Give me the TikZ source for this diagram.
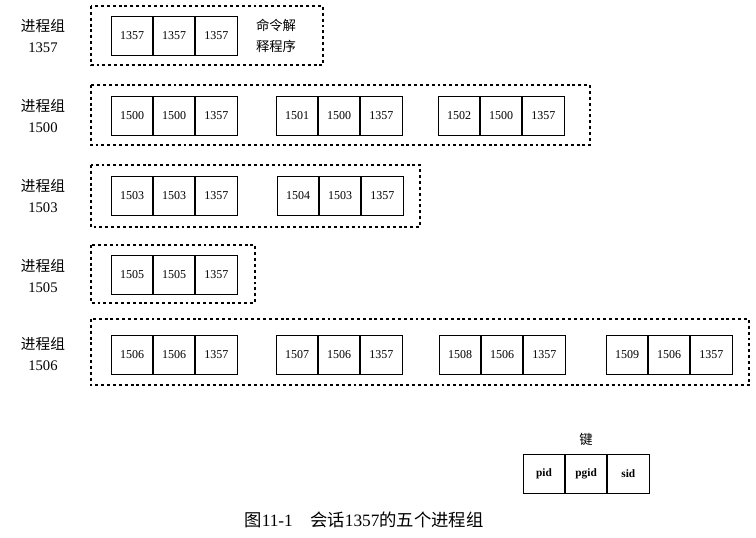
\documentclass[tikz,border=0pt]{standalone}
\usepackage{fontspec}
\setmainfont{Liberation Serif}
\newfontfamily\cjk{Noto Sans CJK SC}
\usetikzlibrary{positioning}

\tikzset{
  cell/.style={draw, line width=0.6pt, minimum width=31pt, minimum height=29.5pt,
    inner sep=0pt, font=\fontsize{9}{10}\selectfont},
  keycell/.style={cell, font=\fontsize{8.5}{10}\selectfont\bfseries},
  group/.style={draw, line width=0.8pt, dash pattern=on 2.2pt off 2.2pt},
  grouplabel/.style={align=center, font=\fontsize{11}{16}\selectfont}
}

\begin{document}
\begin{tikzpicture}[x=0.75pt,y=-0.75pt]
  \useasboundingbox (0,0) rectangle (756,537);

  % process groups
  \draw[group] (91,6) rectangle (323,65);
  \draw[group] (91,85) rectangle (590,145);
  \draw[group] (91,165) rectangle (420,227);
  \draw[group] (91,245) rectangle (255,303);
  \draw[group] (91,319) rectangle (749,385);

  \node[grouplabel] (g1357) at (43,36) {{\cjk 进程组}\\1357};
  \node[grouplabel] (g1500) at (43,116) {{\cjk 进程组}\\1500};
  \node[grouplabel] (g1503) at (43,196) {{\cjk 进程组}\\1503};
  \node[grouplabel] (g1505) at (43,276) {{\cjk 进程组}\\1505};
  \node[grouplabel] (g1506) at (43,354) {{\cjk 进程组}\\1506};

  % processes: pid, pgid, sid
  \foreach \n/\x/\y/\a/\b/\c in {
      p1357/132/36/1357/1357/1357,
      p1500/132/116/1500/1500/1357,
      p1501/297/116/1501/1500/1357,
      p1502/459/116/1502/1500/1357,
      p1503/132/196/1503/1503/1357,
      p1504/298/196/1504/1503/1357,
      p1505/132/275/1505/1505/1357,
      p1506/132/355/1506/1506/1357,
      p1507/297/355/1507/1506/1357,
      p1508/460/355/1508/1506/1357,
      p1509/627/355/1509/1506/1357} {
    \node[cell] (\n-pid) at (\x,\y) {\a};
    \node[cell, right=0pt of \n-pid] (\n-pgid) {\b};
    \node[cell, right=0pt of \n-pgid] (\n-sid) {\c};
  }

  \node[align=center, font=\fontsize{10}{16}\selectfont\cjk] (shell) at (276,36) {命令解\\释程序};

  % key
  \node[keycell] (kpid) at (544,474) {pid};
  \node[keycell, right=0pt of kpid] (kpgid) {pgid};
  \node[keycell, right=0pt of kpgid] (ksid) {sid};
  \node[font=\fontsize{10}{12}\selectfont\cjk, above=3pt of kpgid] (key) {键};

  \node[font=\fontsize{13}{15}\selectfont] (caption) at (364,520)
    {{\cjk 图}11-1\hspace{1em}{\cjk 会话}1357{\cjk 的五个进程组}};
\end{tikzpicture}
\end{document}
